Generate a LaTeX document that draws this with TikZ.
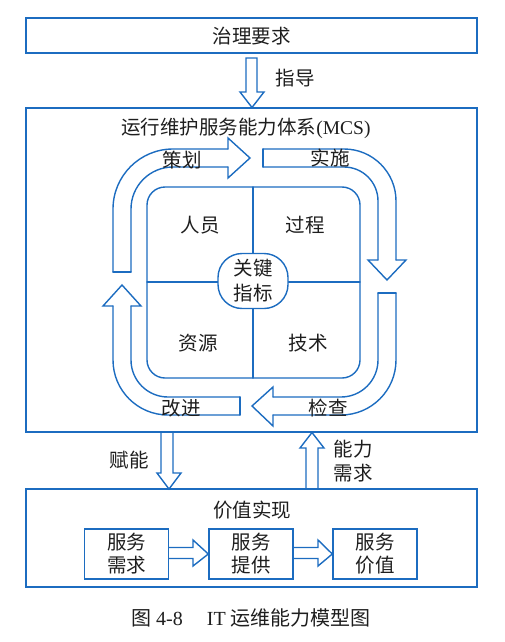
\documentclass[tikz,border=0pt]{standalone}
\usepackage{fontspec}
\setmainfont{Liberation Serif}
\newfontfamily\cjk{Noto Sans CJK SC}
\definecolor{lb}{RGB}{28,108,192}
\definecolor{tx}{RGB}{30,30,30}
\begin{document}
\begin{tikzpicture}[x=1pt,y=-1pt,
  line/.style={draw=lb, line width=1.4pt, line cap=round, line join=miter},
  lbl/.style={text=tx, font=\cjk\fontsize{19.5}{24}\selectfont, inner sep=0pt, align=center},
  frame/.style={draw=lb, line width=1.4pt, inner sep=0pt, fill=none},
  sbox/.style={draw=lb, line width=1.4pt, inner sep=0pt, minimum width=84pt, minimum height=50pt,
     text=tx, font=\cjk\fontsize{19.5}{23}\selectfont, align=center}
]
\useasboundingbox (0,0) rectangle (504,642);
% main frames
\node[frame, minimum width=451pt, minimum height=35pt] (gov) at (251.5,35.5) {};
\node[lbl] (govt) at (251.5,36) {治理要求};
\node[frame, minimum width=451pt, minimum height=324pt] (mcs) at (251.5,270) {};
\node[lbl] (mcst) at (246,128) {运行维护服务能力体系\fontspec{Liberation Serif}(MCS)};
\node[frame, minimum width=451pt, minimum height=98pt] (val) at (251.5,538) {};
\node[lbl] (valt) at (252,510) {价值实现};

% guide arrow
\draw[line, line cap=butt] (246,58) -- (257,58) -- (257,92) -- (264,92) -- (252,107.5) -- (240,92) -- (246,92) -- cycle;
\node[lbl] (guide) at (295,78) {指导};

% enable arrow
\draw[line, line cap=butt] (161,432) -- (161,473) -- (157,473) -- (169,489) -- (181,473) -- (173,473) -- (173,432);
\node[lbl] (enable) at (129,460) {赋能};
% demand arrow
\draw[line, line cap=butt] (306,489) -- (306,448) -- (300,448) -- (312,432.5) -- (324,448) -- (318,448) -- (318,489);
\node[lbl] (demand) at (353,461) {能力\\需求};

% inner square
\draw[line, rounded corners=18pt] (147,187) rectangle (360,378);
\draw[line] (253,187) -- (253,378);
\draw[line] (147,282) -- (360,282);
\node[draw=lb, line width=1.4pt, fill=white, rounded corners=24pt, minimum width=70pt, minimum height=55pt,
   inner sep=0pt, text=tx, font=\cjk\fontsize{19.5}{25}\selectfont, align=center] (kpi) at (253,281) {关键\\指标};
\node[lbl] (ry) at (200,225) {人员};
\node[lbl] (gc) at (305,225) {过程};
\node[lbl] (zy) at (198,343) {资源};
\node[lbl] (js) at (308,343) {技术};

% cycle arrow: plan (top-left)
\draw[line] (131,272) -- (113,272);
\draw[line, rounded corners=60pt] (113,272) |- (228,149);
\draw[line] (228,149) -- (228,138) -- (250,158) -- (228,178) -- (228,167);
\draw[line, rounded corners=42pt] (228,167) -| (131,272);
\node[lbl] (plan) at (182,160) {策划};

% cycle arrow: do (top-right)
\draw[line] (263,149) -- (263,167);
\draw[line, rounded corners=52pt] (263,149) -| (396,260);
\draw[line] (396,260) -- (406,260) -- (387,280) -- (368,260) -- (378,260);
\draw[line, rounded corners=34pt] (378,260) |- (263,167);
\node[lbl] (do) at (330,158) {实施};

% cycle arrow: check (bottom-right)
\draw[line] (378,293) -- (396,293);
\draw[line, rounded corners=55pt] (396,293) |- (273,415);
\draw[line] (273,415) -- (273,426) -- (252,406) -- (273,387) -- (273,397);
\draw[line, rounded corners=37pt] (273,397) -| (378,293);
\node[lbl] (check) at (328,408) {检查};

% cycle arrow: act (bottom-left)
\draw[line] (240,397) -- (240,415);
\draw[line, rounded corners=55pt] (240,415) -| (113,306);
\draw[line] (113,306) -- (103,306) -- (122,285) -- (141,306) -- (131,306);
\draw[line, rounded corners=37pt] (131,306) |- (240,397);
\node[lbl] (act) at (181,408) {改进};

% value chain
\node[sbox] (sd) at (126.5,554) {服务\\需求};
\node[sbox] (sp) at (251,554) {服务\\提供};
\node[sbox] (sv) at (375,554) {服务\\价值};
\draw[line, line cap=butt] (sd.east |- 0,547.5) -- (193,547.5) -- (193,540) -- (sp.west) -- (193,566) -- (193,558.5) -- (sd.east |- 0,558.5);
\draw[line, line cap=butt] (sp.east |- 0,547.5) -- (318,547.5) -- (318,540) -- (sv.west) -- (318,566) -- (318,558.5) -- (sp.east |- 0,558.5);

% caption
\node[text=tx, inner sep=0pt, font=\fontsize{20}{24}\selectfont] (cap) at (251,618) {{\cjk 图} 4-8\hspace{1.2em}IT {\cjk 运维能力模型图}};
\end{tikzpicture}
\end{document}
